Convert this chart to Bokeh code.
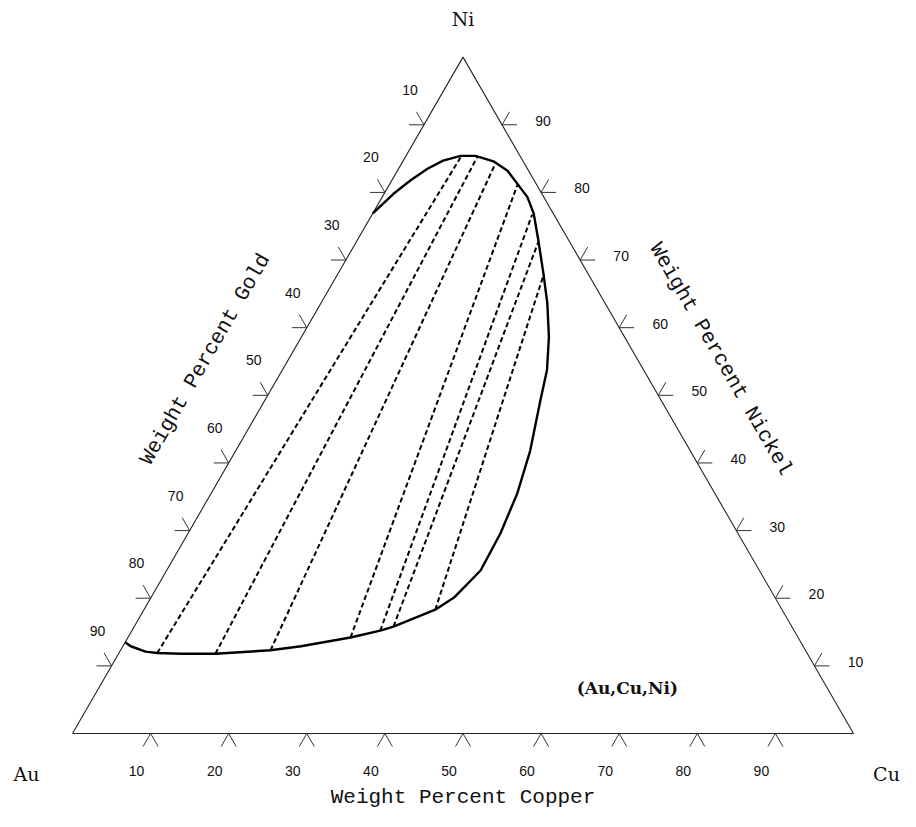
import numpy as np
from bokeh.plotting import figure
from bokeh.models import Range1d
from bokeh.core.properties import value
from bokeh.embed import file_html
from bokeh.resources import INLINE

# ---------------- data (weight percent; Au = 100 - Cu - Ni) ----------------
boundary_cu = [0.0, 1.2, 2.4, 3.7, 5.1, 7.0, 8.9, 11.6, 14.1, 16.3, 18.6, 20.6,
               23.2, 26.3, 29.0, 31.7, 33.9, 35.3, 37.7, 39.2, 40.0, 40.2,
               38.8, 37.3, 33.2, 31.8, 28.5, 22.8, 19.2, 12.4, 8.0, 4.9, 3.3, 1.0, 0.0]
boundary_ni = [76.9, 79.8, 81.8, 83.5, 84.7, 85.4, 85.4, 84.6, 83.2, 81.3, 79.3, 76.9,
               72.9, 68.0, 63.6, 58.6, 53.7, 49.2, 41.8, 35.5, 29.6, 24.1,
               20.1, 18.3, 15.8, 15.2, 14.2, 12.9, 12.3, 11.8, 11.8, 11.9, 12.1, 12.9, 13.5]

# tie lines: Au-rich end and Ni-rich end
tie_aurich_cu = [4.9, 12.4, 19.2, 28.5, 31.8, 33.2, 37.3]
tie_aurich_ni = [11.9, 11.8, 12.3, 14.2, 15.2, 15.8, 18.3]
tie_nirich_cu = [7.1, 9.2, 12.0, 16.4, 20.5, 23.3, 26.4]
tie_nirich_ni = [85.2, 85.3, 84.4, 81.2, 76.7, 72.7, 67.9]

tick_values = [10, 20, 30, 40, 50, 60, 70, 80, 90]
corner_names = ["Au", "Cu", "Ni"]
title_copper = "Weight Percent Copper"
title_gold = "Weight Percent Gold"
title_nickel = "Weight Percent Nickel"
phase_label = "(Au,Cu,Ni)"

# ---------------- helpers ----------------
S3 = np.sqrt(3) / 2


def tern(cu, ni):
    cu = np.asarray(cu, dtype=float)
    ni = np.asarray(ni, dtype=float)
    return cu + ni / 2.0, ni * S3


PX = 7.81            # pixels per wt% unit
ORIGIN = (72, 733)   # canvas position of the Au corner
W, H = 900, 811

x0 = -ORIGIN[0] / PX
y1 = ORIGIN[1] / PX

p = figure(width=W, height=H, output_backend="svg", toolbar_location=None,
           x_range=Range1d(x0, x0 + W / PX), y_range=Range1d(y1 - H / PX, y1),
           x_axis_location=None, y_axis_location=None, min_border=0,
           min_border_left=0, min_border_right=0, min_border_top=0, min_border_bottom=0)
p.grid.visible = False
p.outline_line_color = None
p.background_fill_color = "white"
p.border_fill_color = "white"

EDGE = "#222222"

# triangle
cx, cy = tern([0, 100, 0, 0], [0, 0, 100, 0])
p.line(cx, cy, line_color=EDGE, line_width=1.1)

# ticks
L = 15 / PX
tv = np.array(tick_values, dtype=float)
xs0, ys0, xs1, ys1 = [], [], [], []
bx, by = tern(tv, np.zeros_like(tv))          # bottom (Cu)
for dx, dy in [(-0.5, -S3), (0.5, -S3)]:
    xs0 += list(bx); ys0 += list(by); xs1 += list(bx + L * dx); ys1 += list(by + L * dy)
lx, ly = tern(np.zeros_like(tv), 100 - tv)    # left (Au)
for dx, dy in [(-1, 0), (-0.5, S3)]:
    xs0 += list(lx); ys0 += list(ly); xs1 += list(lx + L * dx); ys1 += list(ly + L * dy)
rx, ry = tern(100 - tv, tv)                   # right (Ni)
for dx, dy in [(1, 0), (0.5, S3)]:
    xs0 += list(rx); ys0 += list(ry); xs1 += list(rx + L * dx); ys1 += list(ry + L * dy)
p.segment(xs0, ys0, xs1, ys1, line_color="#333333", line_width=1.0)

labels = [str(v) for v in tick_values]
TF = value("Liberation Sans")
for (tx, ty, ox, oy) in [(bx, by, -14, 37), (lx, ly, -14, -35), (rx, ry, 41, -4)]:
    p.text(tx, ty, text=labels, x_offset=ox, y_offset=oy, text_align="center",
           text_baseline="middle", text_font=TF, text_font_size="14px",
           text_color="#111111")

# corner labels
kx, ky = tern([0, 100, 0], [0, 0, 100])
p.text(kx, ky, text=corner_names, x_offset=[-46, 33, 0], y_offset=[40, 40, -38],
       text_align="center", text_baseline="middle", text_font=value("DejaVu Serif"),
       text_font_size="19px", text_color="#111111")

# axis titles (offset outward from each edge midpoint)
mx, my = tern([50, 0, 50], [0, 50, 50])
D = 72
p.text(mx, my, text=[title_copper, title_gold, title_nickel],
       x_offset=[0, -D * S3, D * S3], y_offset=[64, -D * 0.5, -D * 0.5],
       angle=[0, np.pi / 3, -np.pi / 3], text_align="center", text_baseline="middle",
       text_font=value("Liberation Mono"), text_font_size="21px", text_color="#111111")

# phase boundary
bcx, bcy = tern(boundary_cu, boundary_ni)
p.line(bcx, bcy, line_color="black", line_width=2.4, line_join="round")

# tie lines
ax_, ay_ = tern(tie_aurich_cu, tie_aurich_ni)
nx_, ny_ = tern(tie_nirich_cu, tie_nirich_ni)
p.multi_line([[a, b] for a, b in zip(ax_, nx_)], [[a, b] for a, b in zip(ay_, ny_)],
             line_color="black", line_width=2.0, line_dash="5 3")

# phase label
lbx, lby = tern([67.7], [6.7])
p.text(lbx, lby, text=[phase_label], text_align="center", text_baseline="middle",
       text_font=value("DejaVu Serif"), text_font_style="bold", text_font_size="17px",
       text_color="#111111")

open("out.html", "w").write(file_html(p, INLINE))
